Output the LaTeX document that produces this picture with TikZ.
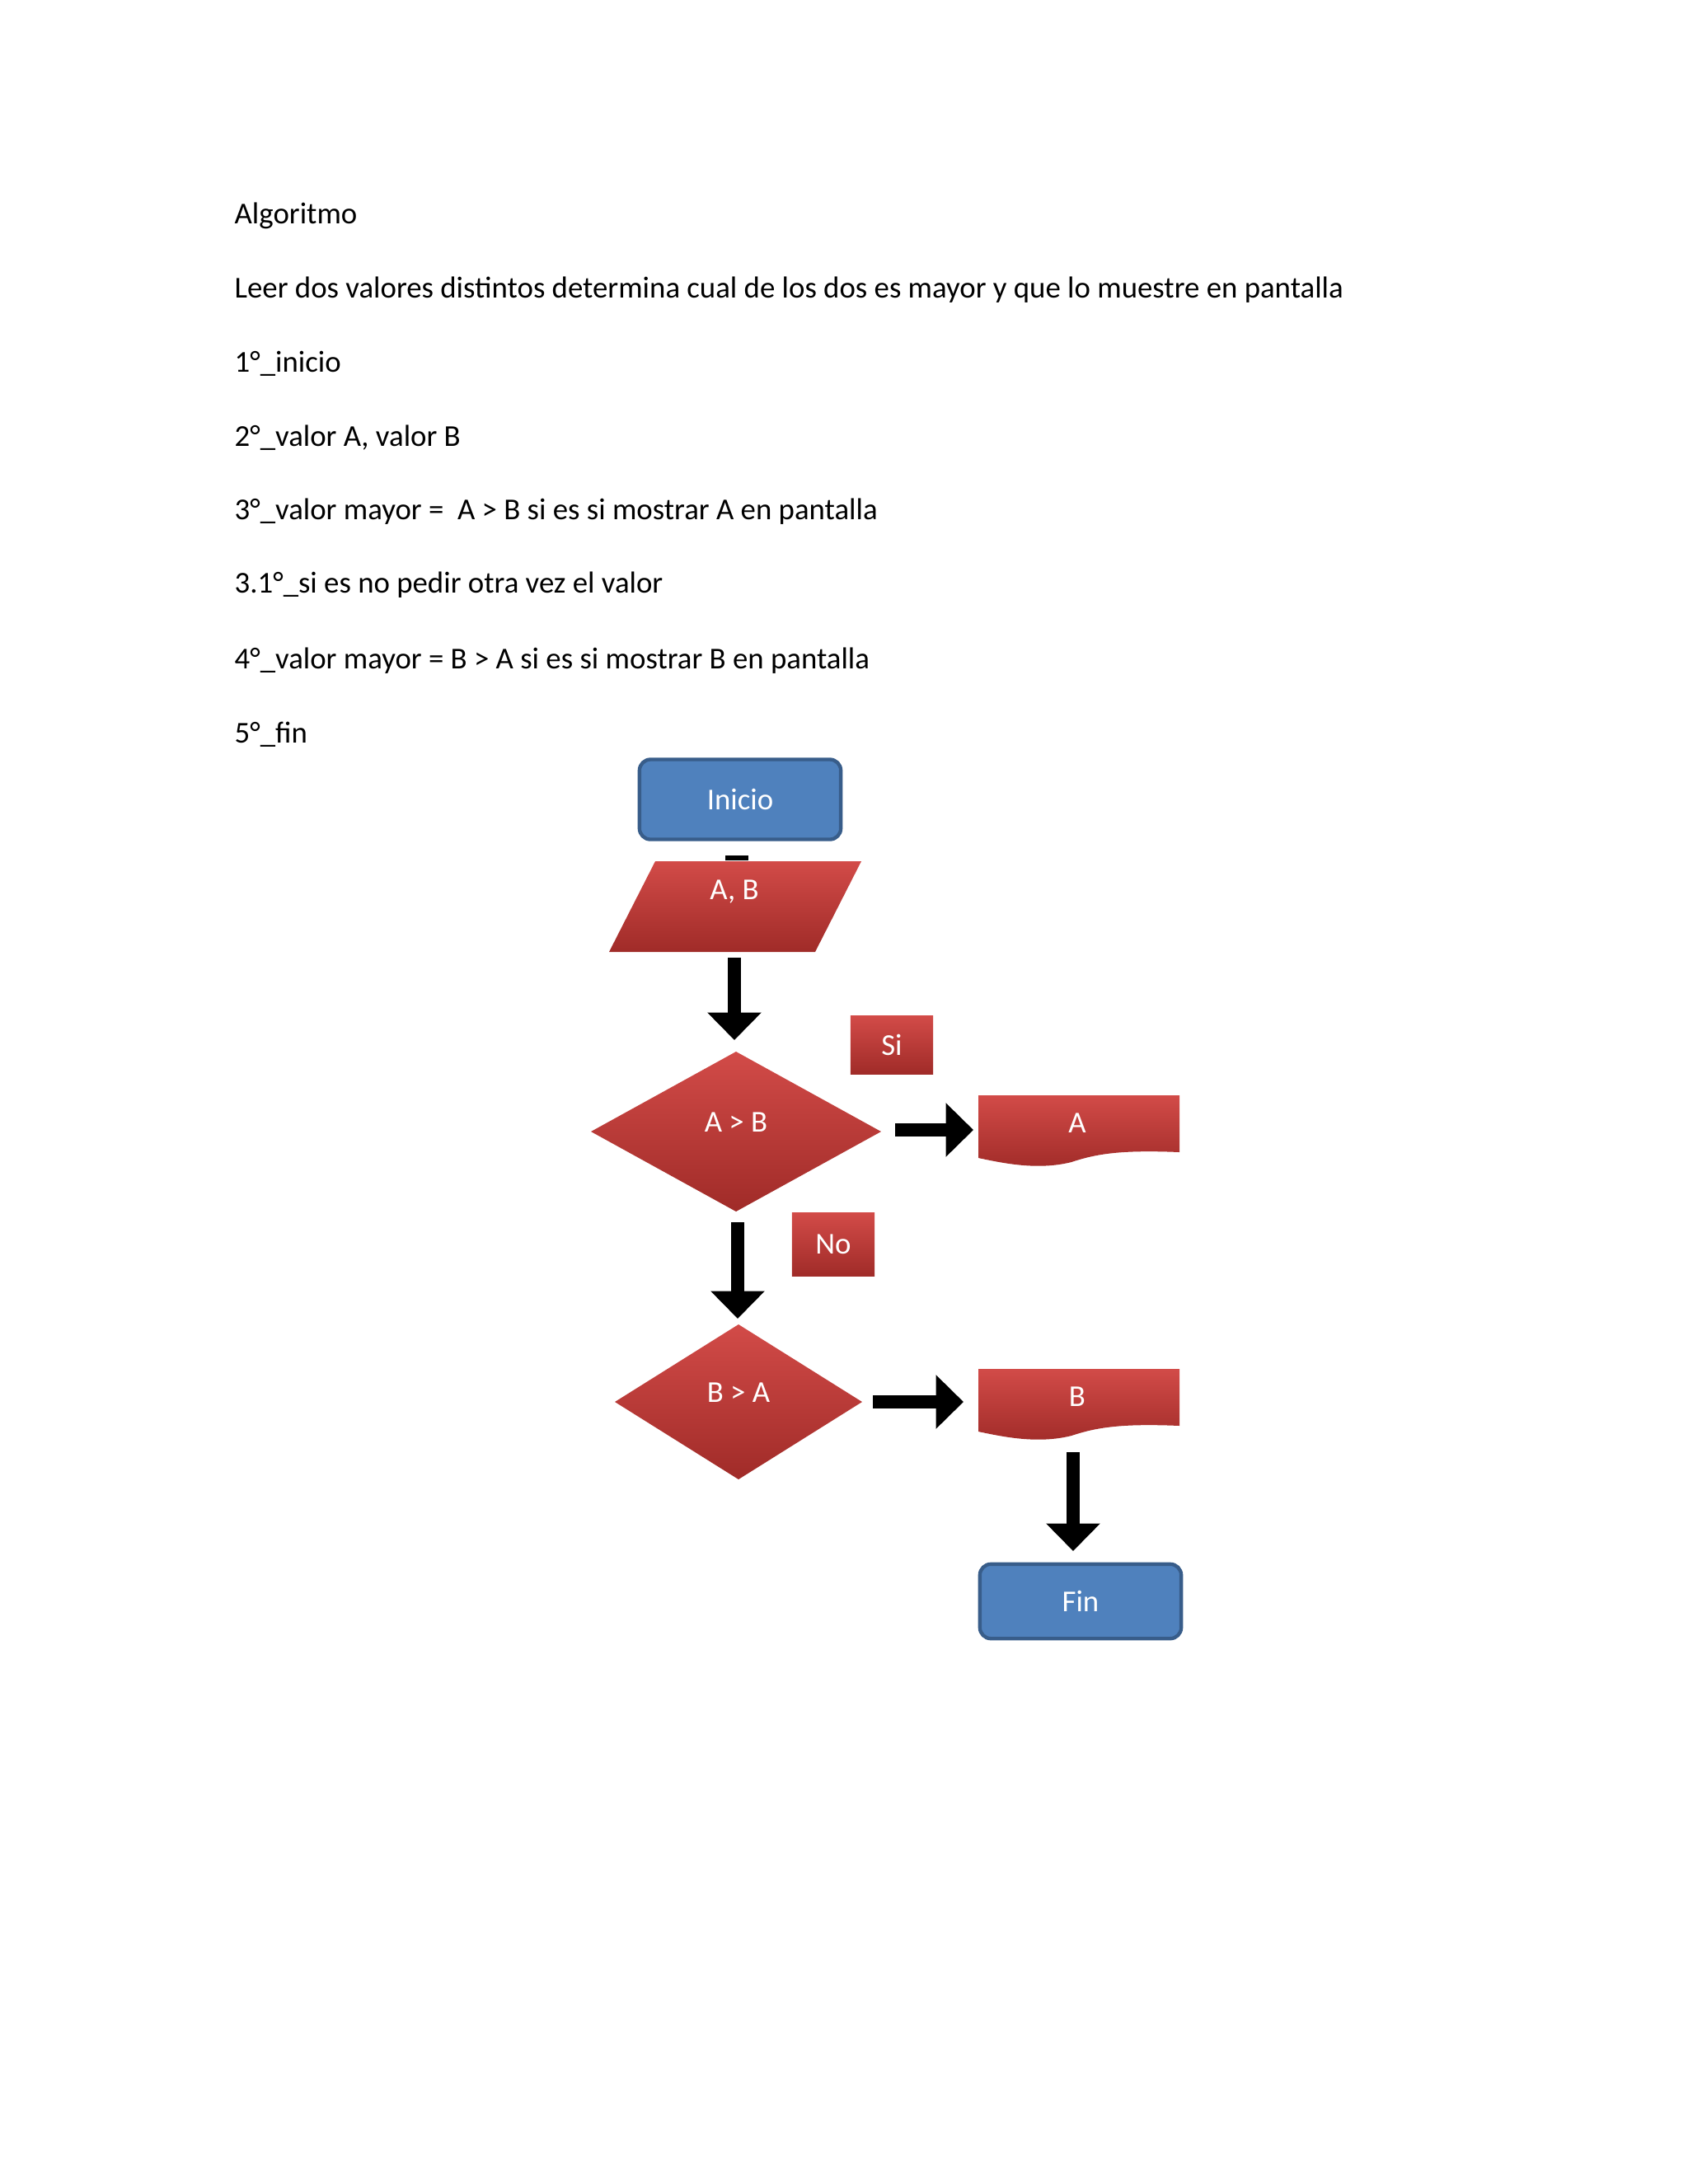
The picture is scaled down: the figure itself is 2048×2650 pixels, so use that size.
\documentclass[tikz,border=0pt]{standalone}
\usepackage{fontspec}
\setmainfont{Carlito}
\usetikzlibrary{shapes.geometric,arrows.meta}
\definecolor{bfill}{HTML}{4F81BD}
\definecolor{bline}{HTML}{385D8A}
\definecolor{rtop}{HTML}{D24B48}
\definecolor{rbot}{HTML}{A02B28}
\tikzset{
  txt/.style={anchor=west,font=\fontsize{11}{13}\selectfont,inner sep=0},
  term/.style={draw=bline,line width=1.3pt,fill=bfill,rounded corners=4pt,text=white,font=\fontsize{11}{13}\selectfont},
  redsh/.style={top color=rtop,bottom color=rbot,draw=none},
  wt/.style={text=white,font=\fontsize{11}{13}\selectfont},
  fat/.style={line width=5pt,-{Triangle[width=19pt,length=10pt]}},
  lbl/.style={redsh,wt,minimum width=30pt,minimum height=20pt,drop shadow/.try}
}
\begin{document}
\begin{tikzpicture}[x=0.2988pt,y=-0.2988pt]
\useasboundingbox (0,0) rectangle (2048,2650);
\node[txt] (t1) at (284,262) {Algoritmo};
\node[txt] (t2) at (284,352) {Leer dos valores distintos determina cual de los dos es mayor y que lo muestre en pantalla};
\node[txt] (t3) at (284,441) {1°\_inicio};
\node[txt] (t4) at (284,531) {2°\_valor A, valor B};
\node[txt] (t5) at (284,621) {3°\_valor mayor =\ \ A > B si es si mostrar A en pantalla};
\node[txt] (t6) at (284,710) {3.1°\_si es no pedir otra vez el valor};
\node[txt] (t7) at (284,802) {4°\_valor mayor = B > A si es si mostrar B en pantalla};
\node[txt] (t8) at (284,891) {5°\_fin};

% Inicio
\node[term,minimum width=73pt,minimum height=29pt] (ini) at (898,970) {Inicio};
% stub
\draw[line width=2pt] (880,1041) -- (908,1041);
% parallelogram
\path[redsh] (795,1045) -- (1045,1045) -- (989,1155) -- (739,1155) -- cycle;
\node[wt] (ab) at (891,1082) {A, B};
\coordinate (a1s) at (891,1162); \coordinate (a1e) at (891,1262);
\draw[fat] (a1s) -- (a1e);
% Si
\node[lbl,minimum width=30pt,minimum height=21pt,inner sep=0] (si) at (1082,1268) {Si};
% diamond 1
\path[redsh] (893,1276) -- (1069,1373) -- (893,1470) -- (717,1373) -- cycle;
\node[wt] (d1) at (893,1362) {A > B};
\coordinate (a2s) at (1086,1371); \coordinate (a2e) at (1181,1371);
\draw[fat] (a2s) -- (a2e);
% doc A
\path[redsh] (1187,1329) -- (1431,1329) -- (1431,1398) .. controls (1360,1395) and (1330,1400) .. (1300,1410) .. controls (1260,1420) and (1220,1412) .. (1187,1405) -- cycle;
\node[wt] (da) at (1307,1363) {A};
% down 2
\coordinate (a3s) at (895,1483); \coordinate (a3e) at (895,1600);
\draw[fat] (a3s) -- (a3e);
\node[lbl,minimum width=30pt,minimum height=23pt,inner sep=0] (no) at (1011,1510) {No};
% diamond 2
\path[redsh] (896,1607) -- (1046,1701) -- (896,1795) -- (746,1701) -- cycle;
\node[wt] (d2) at (896,1690) {B > A};
\coordinate (a4s) at (1059,1701); \coordinate (a4e) at (1169,1701);
\draw[fat] (a4s) -- (a4e);
% doc B
\path[redsh] (1187,1661) -- (1431,1661) -- (1431,1730) .. controls (1360,1727) and (1330,1732) .. (1300,1742) .. controls (1260,1752) and (1220,1744) .. (1187,1737) -- cycle;
\node[wt] (db) at (1307,1695) {B};
\coordinate (a5s) at (1302,1762); \coordinate (a5e) at (1302,1882);
\draw[fat] (a5s) -- (a5e);
\node[term,minimum width=73pt,minimum height=27pt] (fin) at (1311,1943) {Fin};
\end{tikzpicture}
\end{document}
